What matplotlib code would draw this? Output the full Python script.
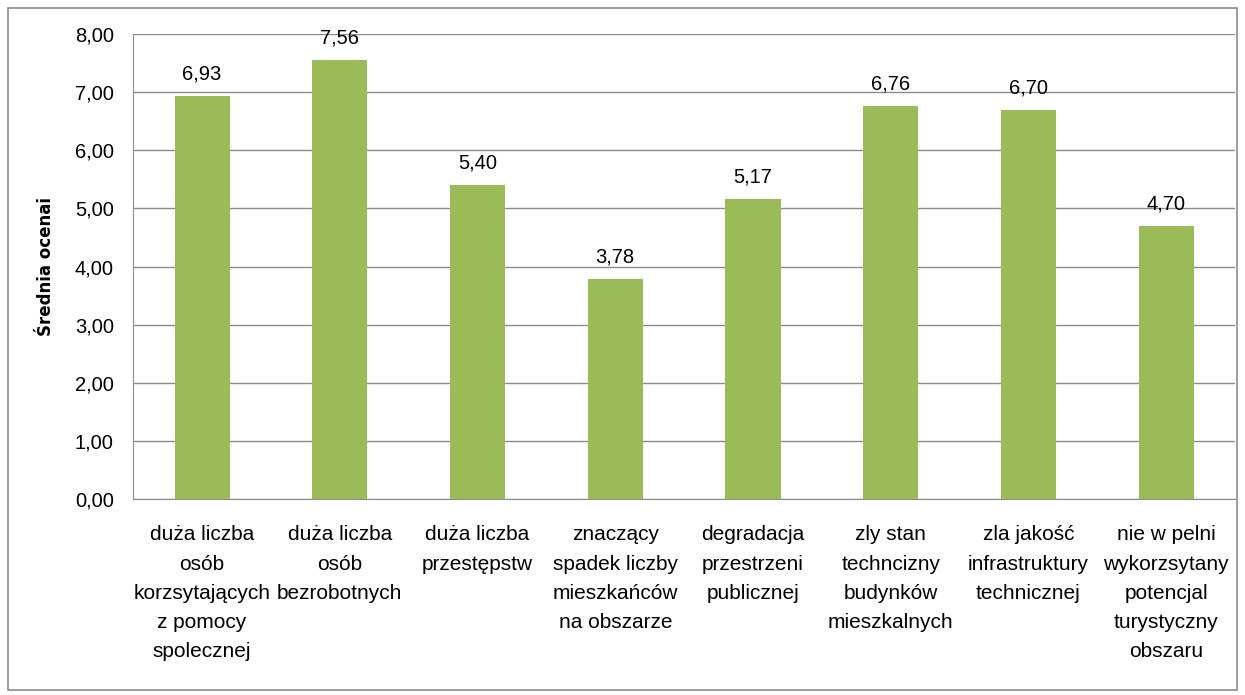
import matplotlib
matplotlib.use("Agg")
import matplotlib.pyplot as plt
from matplotlib.patches import Rectangle

categories = [
    "duża liczba\nosób\nkorzsytających\nz pomocy\nspolecznej",
    "duża liczba\nosób\nbezrobotnych",
    "duża liczba\nprzestępstw",
    "znaczący\nspadek liczby\nmieszkańców\nna obszarze",
    "degradacja\nprzestrzeni\npublicznej",
    "zly stan\ntechncizny\nbudynków\nmieszkalnych",
    "zla jakość\ninfrastruktury\ntechnicznej",
    "nie w pelni\nwykorzsytany\npotencjal\nturystyczny\nobszaru",
]
values = [6.93, 7.56, 5.40, 3.78, 5.17, 6.76, 6.70, 4.70]
yticks = [0, 1, 2, 3, 4, 5, 6, 7, 8]

fam = ["Liberation Sans", "DejaVu Sans"]

fig = plt.figure(figsize=(12.45, 6.95), dpi=100)
ax = fig.add_axes([0.107, 0.282, 0.885, 0.669])

x = list(range(len(values)))
ax.bar(x, values, width=0.4, color="#9BBB59", zorder=3)
ax.set_xlim(-0.5, len(values) - 0.5)
ax.set_ylim(0, 8)
ax.set_yticks(yticks)
ax.set_yticklabels([f"{v:.2f}".replace(".", ",") for v in yticks], family=fam, fontsize=14.5)
ax.set_xticks(x)
ax.set_xticklabels(categories, family=fam, fontsize=15, linespacing=1.68, va="top")
ax.tick_params(axis="both", length=0)
ax.tick_params(axis="y", pad=14)
ax.tick_params(axis="x", pad=19)
ax.grid(axis="y", color="#8c8c8c", linewidth=1, zorder=0)
for s in ["top", "right"]:
    ax.spines[s].set_visible(False)
ax.spines["left"].set_color("#8c8c8c")
ax.spines["bottom"].set_color("#8c8c8c")

for xi, v in zip(x, values):
    ax.annotate(f"{v:.2f}".replace(".", ","), (xi, v), xytext=(0, 9),
                textcoords="offset points", ha="center", va="bottom",
                family=fam, fontsize=14.5)

ax.set_ylabel("Średnia ocenai", family="DejaVu Sans", fontweight="bold", fontsize=12)
ax.yaxis.set_label_coords(-0.071, 0.5)

fig.patches.append(Rectangle((8 / 1245, 5 / 695), 1229 / 1245, 682 / 695,
                             transform=fig.transFigure, fill=False,
                             edgecolor="#8c8c8c", linewidth=1.2))

fig.savefig("out.png", dpi=100)
